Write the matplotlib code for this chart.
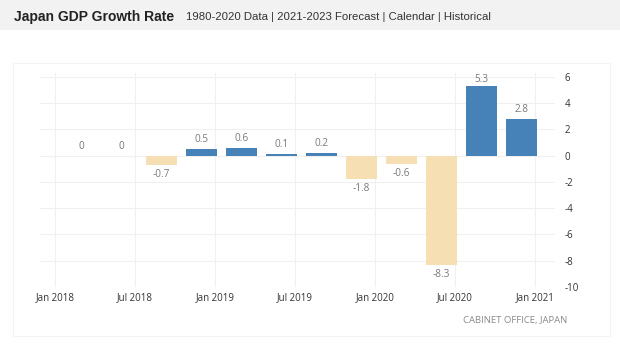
import matplotlib
matplotlib.use("Agg")
import matplotlib.pyplot as plt
from matplotlib.patches import Rectangle

# Data (quarterly GDP growth, % QoQ)
quarters = ["Q1 2018", "Q2 2018", "Q3 2018", "Q4 2018", "Q1 2019", "Q2 2019",
            "Q3 2019", "Q4 2019", "Q1 2020", "Q2 2020", "Q3 2020", "Q4 2020"]
values = [0, 0, -0.7, 0.5, 0.6, 0.1, 0.2, -1.8, -0.6, -8.3, 5.3, 2.8]
value_labels = ["0", "0", "-0.7", "0.5", "0.6", "0.1", "0.2", "-1.8", "-0.6", "-8.3", "5.3", "2.8"]
x_tick_labels = ["Jan 2018", "Jul 2018", "Jan 2019", "Jul 2019", "Jan 2020", "Jul 2020", "Jan 2021"]
y_ticks = [6, 4, 2, 0, -2, -4, -6, -8, -10]

# months since Jan 2018 for each bar (bars drawn at mid/late quarter)
bar_months = [2 + 3 * i for i in range(len(values))]
tick_months = [6 * i for i in range(len(x_tick_labels))]

W, H = 620, 350
fig = plt.figure(figsize=(W / 100, H / 100), dpi=100)
fig.patch.set_facecolor("white")

# Header band
fig.patches.append(Rectangle((0, 1 - 30 / H), 1, 30 / H, transform=fig.transFigure,
                             facecolor="#f2f2f2", edgecolor="none", zorder=0))
# Panel border
fig.patches.append(Rectangle((13 / W, 1 - 336 / H), (610 - 13) / W, (336 - 63) / H,
                             transform=fig.transFigure, facecolor="none",
                             edgecolor="#f3f3f3", linewidth=0.8, zorder=0))

fig.text(14 / W, 1 - 17 / H, "Japan GDP Growth Rate", fontsize=10, fontweight="bold",
         family="Liberation Sans", color="#222222", va="center", ha="left")
fig.text(186 / W, 1 - 17 / H, "1980-2020 Data | 2021-2023 Forecast | Calendar | Historical",
         fontsize=8.2, family="Liberation Sans", color="#333333", va="center", ha="left")
fig.text(567 / W, 1 - 321 / H, "CABINET OFFICE, JAPAN", fontsize=6.8, family="Open Sans",
         color="#8a8a8a", va="center", ha="right")

left, right, top, bottom = 40, 555, 73, 287
ax = fig.add_axes([left / W, 1 - bottom / H, (right - left) / W, (bottom - top) / H])
ax.set_xlim((left - 55) / (80 / 6), (right - 55) / (80 / 6))
ax.set_ylim(-10, 6.3)

colors = ["#4682b8" if v > 0 else "#f5dfb3" for v in values]
ax.bar(bar_months, values, width=2.35, color=colors, zorder=3)

for xm, v, lab in zip(bar_months, values, value_labels):
    off = -6.8 if v < 0 else 6.8
    if v > 5:
        off = 5.0
    ax.annotate(lab, (xm, v), xytext=(0, off), textcoords="offset points",
                ha="center", va="center", fontsize=7.2, color="#7a7a7a", family="Open Sans")

ax.set_xticks(tick_months)
ax.set_xticklabels(x_tick_labels, fontsize=7, color="#333333", family="Open Sans")
ax.set_yticks(y_ticks)
ax.set_yticklabels([str(t) for t in y_ticks], fontsize=7, color="#333333", family="Open Sans")
ax.yaxis.tick_right()
ax.tick_params(axis="both", length=0)
ax.tick_params(axis="x", pad=4)
ax.tick_params(axis="y", pad=7)
for lbl in ax.get_yticklabels():
    lbl.set_horizontalalignment("left")

ax.grid(True, color="#f0f0f0", linewidth=0.8, zorder=0)
for s in ax.spines.values():
    s.set_visible(False)

fig.savefig("out.png", dpi=100, facecolor="white")
